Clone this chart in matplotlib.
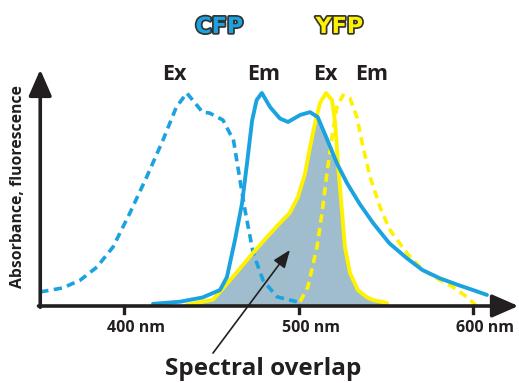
import numpy as np
import matplotlib
matplotlib.use('Agg')
import matplotlib.pyplot as plt
import matplotlib.patheffects as pe

plt.rcParams['font.family'] = ['Open Sans', 'DejaVu Sans']

# spectra (wavelength nm, normalised intensity)
cfp_ex_nm = [352, 365, 375, 384.5, 393.7, 403.4, 413, 422.4, 430, 436, 445, 449, 456.7,
             460.7, 462.5, 466.5, 469, 474, 479.7, 487.7, 499]
cfp_ex = [0.066, 0.085, 0.122, 0.183, 0.277, 0.437, 0.606, 0.78, 0.934, 1.0, 0.91, 0.906, 0.873,
          0.81, 0.79, 0.59, 0.465, 0.25, 0.12, 0.043, 0.02]

cfp_em_nm = [416.6, 432, 445, 455, 459, 463.6, 467.6, 470.5, 473.4, 476, 479, 483.7, 489.4,
             494, 501, 506.6, 511, 516, 522, 527.8, 535, 542.7, 552, 562, 571, 581, 591, 600, 608]
cfp_em = [0.01, 0.02, 0.04, 0.075, 0.136, 0.31, 0.48, 0.67, 0.87, 0.967, 1.0, 0.934, 0.88,
          0.864, 0.897, 0.91, 0.887, 0.79, 0.67, 0.577, 0.48, 0.39, 0.295, 0.225, 0.169, 0.13,
          0.1, 0.075, 0.052]

yfp_ex_nm = [436, 451, 455, 464.8, 474, 482, 489.4, 495, 499.7, 503.7, 506.6, 509.5, 512.3,
             515.8, 519.2, 521, 522.6, 525, 526.6, 529.5, 534, 539, 542.7, 550.7]
yfp_ex = [0.005, 0.03, 0.066, 0.16, 0.25, 0.324, 0.39, 0.437, 0.512, 0.62, 0.746, 0.859, 0.953,
          1.0, 0.967, 0.859, 0.67, 0.437, 0.277, 0.155, 0.075, 0.042, 0.028, 0.014]

yfp_em_nm = [500.9, 505.4, 510.6, 513.5, 516.3, 519.2, 522, 525.5, 529.5, 533.5, 537, 541,
             546.7, 552.4, 562, 571.3, 581, 588.5, 596.6, 602]
yfp_em = [0.02, 0.09, 0.277, 0.437, 0.624, 0.793, 0.934, 0.99, 0.975, 0.886, 0.746, 0.606,
          0.465, 0.357, 0.249, 0.169, 0.122, 0.089, 0.042, 0.0]

ticks = [400, 500, 600]

blue = '#1aa3e0'
yellow = '#fff200'
shade = '#9fbdcc'
dark = '#231f20'

fig = plt.figure(figsize=(5.19, 3.83), dpi=100)
ax = fig.add_axes([0, 0, 1, 1])
ax.set_xlim(328.94, 626.36)
ax.set_ylim(-0.3615, 1.4366)
ax.axis('off')

# overlap area = min of CFP emission and YFP excitation
grid = np.linspace(min(cfp_em_nm), max(yfp_ex_nm), 400)
overlap = np.minimum(np.interp(grid, cfp_em_nm, cfp_em, left=0, right=0),
                     np.interp(grid, yfp_ex_nm, yfp_ex, left=0, right=0))
ax.fill_between(grid, 0, overlap, color=shade, lw=0, zorder=1)

dash = (0, (2.3, 1.5))
ax.plot(yfp_em_nm, yfp_em, color=yellow, lw=2.6, ls=dash, zorder=2)
ax.plot(cfp_ex_nm, cfp_ex, color=blue, lw=2.6, ls=dash, zorder=3)
ax.plot(yfp_ex_nm, yfp_ex, color=yellow, lw=2.8, zorder=4, solid_capstyle='round',
        solid_joinstyle='round')
ax.plot(cfp_em_nm, cfp_em, color=blue, lw=2.8, zorder=5, solid_capstyle='round',
        solid_joinstyle='round')

# axes with arrow heads
head = '-|>,head_length=0.8,head_width=0.35'
ax.annotate('', xy=(626, 0), xytext=(351, 0),
            arrowprops=dict(arrowstyle=head, lw=2.6, color=dark, mutation_scale=20,
                            shrinkA=0, shrinkB=0), zorder=6)
ax.annotate('', xy=(352, 1.11), xytext=(352, -0.006),
            arrowprops=dict(arrowstyle=head, lw=2.6, color=dark, mutation_scale=20,
                            shrinkA=0, shrinkB=0), zorder=6)
for t in ticks:
    ax.plot([t, t], [0, -0.035], color=dark, lw=2.4, zorder=6)
    ax.text(t - 9.6, -0.105, f'{t} nm', ha='left', va='center', fontsize=11.5,
            fontweight='bold', color=dark)

ax.text(339.3, 0.563, 'Absorbance, fluorescence', rotation=90, ha='center', va='center',
        fontsize=11.3, fontweight='bold', color=dark)

# labels on top
outline = [pe.withStroke(linewidth=2.5, foreground='#333333')]
ax.text(454.6, 1.31, 'CFP', ha='center', va='center', fontsize=16, fontweight='bold',
        color=blue, family='DejaVu Sans', path_effects=outline)
ax.text(523.4, 1.31, 'YFP', ha='center', va='center', fontsize=16, fontweight='bold',
        color=yellow, family='DejaVu Sans', path_effects=outline)
for xpx, lab in [(174, 'Ex'), (264, 'Em'), (325, 'Ex'), (372, 'Em')]:
    ax.text(400 + (xpx - 124) / 1.745, 1.085, lab, ha='center', va='center', fontsize=15.5,
            fontweight='bold', color=dark)

ax.annotate('', xy=(495.1, 0.263), xytext=(451.0, -0.221),
            arrowprops=dict(arrowstyle='-|>,head_length=0.9,head_width=0.35', lw=1.2,
                            color=dark, mutation_scale=12, shrinkA=0, shrinkB=0), zorder=7)
ax.text(480, -0.297, 'Spectral overlap', ha='center', va='center', fontsize=17.5,
        fontweight='bold', color=dark)

fig.savefig('out.png', dpi=100)
